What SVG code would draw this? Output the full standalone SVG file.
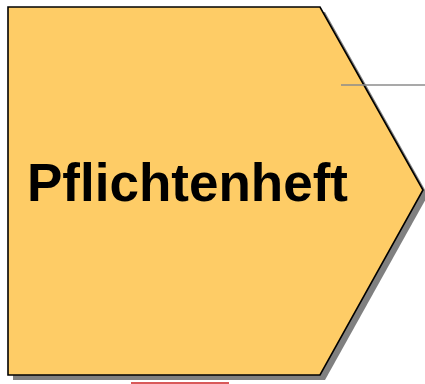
<svg xmlns="http://www.w3.org/2000/svg" width="425" height="384" viewBox="0 0 425 384">
<style>
.shadow{fill:#808080;}
.shape{fill:#fecc66;stroke:#000;stroke-width:1.6;stroke-linejoin:miter;}
.label{font-family:"Liberation Sans",Arial,sans-serif;font-weight:bold;font-size:53px;fill:#000;}
.conn{stroke:#8c8c8c;stroke-width:1.6;fill:none;}
.red{stroke:#cc2222;stroke-width:1.6;fill:none;}
</style>
<rect width="425" height="384" fill="#fff"/>
<g id="node-pflichtenheft">
<polygon class="shadow" points="13,12 325,12 428,195 325,380 13,380"/>
<polygon class="shape" points="8,7 320,7 423,190 320,375 8,375"/>
<text class="label" x="27" y="201">Pflichtenheft</text>
</g>
<g id="connectors">
<line class="conn" x1="341" y1="85" x2="425" y2="85"/>
<line class="red" x1="131" y1="383" x2="229" y2="383"/>
</g>
</svg>
